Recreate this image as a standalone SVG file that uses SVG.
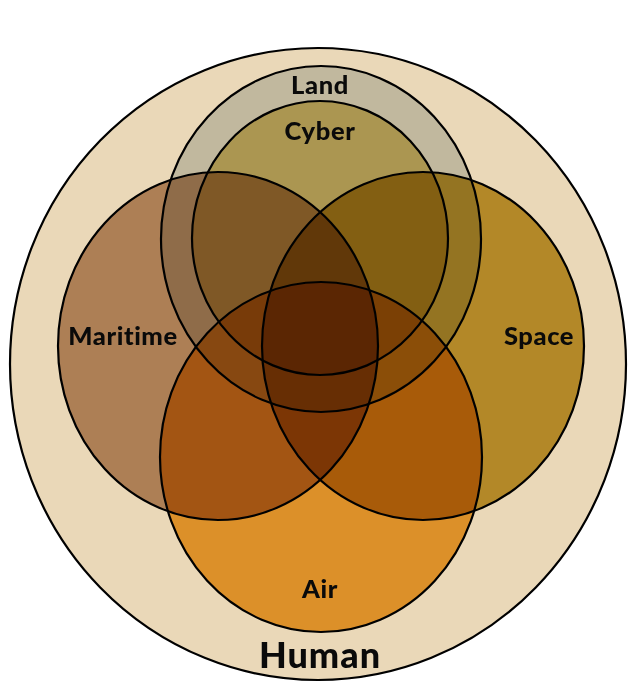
<svg xmlns="http://www.w3.org/2000/svg" width="628" height="682" viewBox="0 0 628 682">
<style>
.o{stroke:#000;stroke-width:2.2}
.m{mix-blend-mode:multiply}
text{font-family:Lato,"Noto Sans","Liberation Sans",sans-serif;font-weight:900;fill:#0a0a0a;text-anchor:middle}
.l{font-size:25.5px;letter-spacing:0.6px}
.h{font-size:36px;letter-spacing:1px}
</style>
<rect width="628" height="682" fill="#fff"/>
<g id="human">
<ellipse class="o" cx="318" cy="364" rx="308" ry="316" fill="#EAD8B8"/>
</g>
<g id="land">
<ellipse class="o m" cx="321" cy="239" rx="160" ry="173" fill="#D3D9DB"/>
</g>
<g id="cyber">
<ellipse class="o m" cx="320" cy="238" rx="128" ry="137" fill="#E2D083"/>
</g>
<g id="maritime">
<ellipse class="o m" cx="218" cy="346" rx="160" ry="174" fill="#BD9675"/>
</g>
<g id="space">
<ellipse class="o m" cx="423" cy="346" rx="161" ry="174" fill="#C3A137"/>
</g>
<g id="air">
<ellipse class="o m" cx="321" cy="457" rx="161" ry="175" fill="#F0AA39"/>
</g>
<g id="labels">
<text class="l" x="320" y="94">Land</text>
<text class="l" x="320" y="140">Cyber</text>
<text class="l" x="123" y="345">Maritime</text>
<text class="l" x="539" y="345">Space</text>
<text class="l" x="320" y="598">Air</text>
<text class="h" x="320" y="668">Human</text>
</g>
<g id="connectors"/>
</svg>
